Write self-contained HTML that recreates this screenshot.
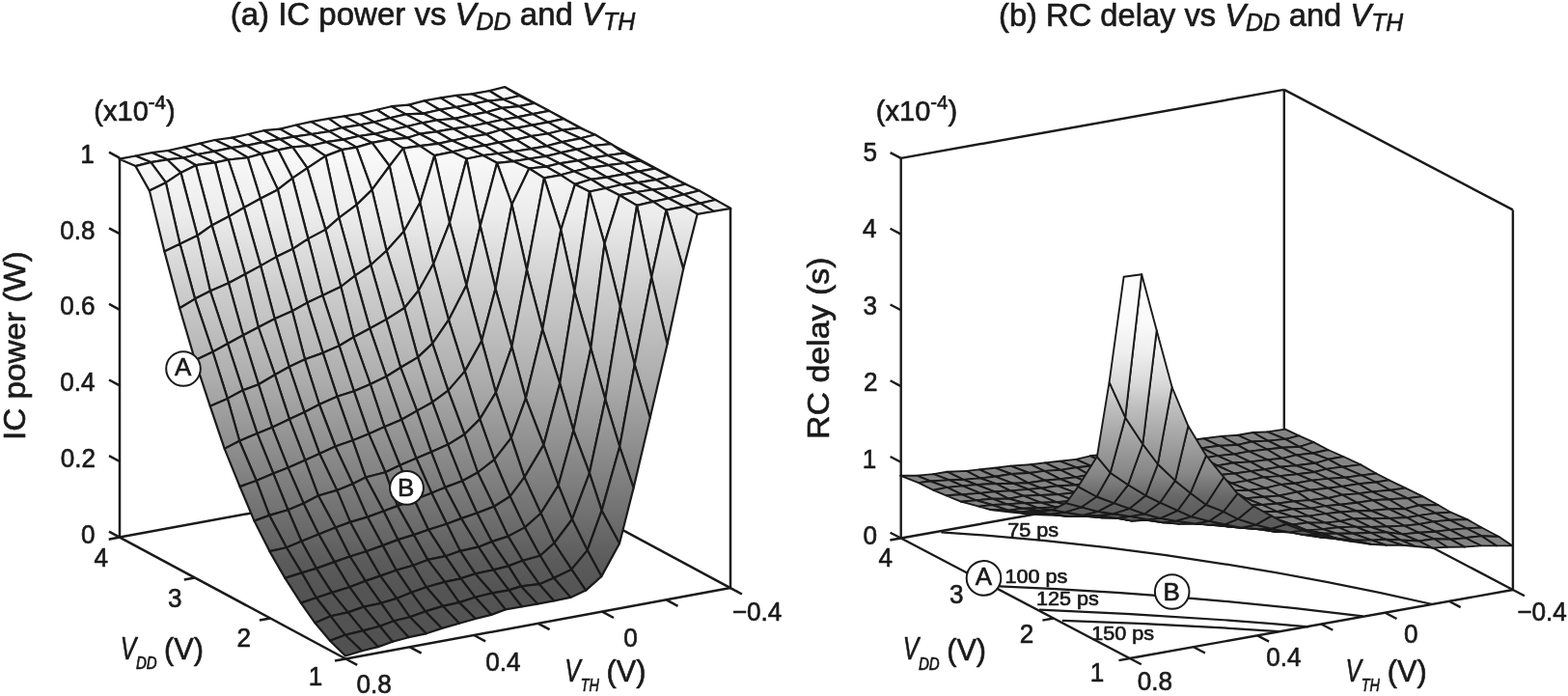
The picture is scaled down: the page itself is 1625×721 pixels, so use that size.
<!DOCTYPE html>
<html lang="en">
<head>
<meta charset="utf-8">
<title>IC power and RC delay vs VDD and VTH</title>
<style>
html,body{margin:0;padding:0;background:#fff;}
body{width:1625px;height:721px;overflow:hidden;}
svg{display:block;}
text{white-space:pre;}
</style>
</head>
<body>
<svg width="1625" height="721" viewBox="0 0 1625 721"><defs><linearGradient id="ga" gradientUnits="userSpaceOnUse" x1="0" y1="91" x2="0" y2="690"><stop offset="0" stop-color="#fdfdfd"/><stop offset="0.12" stop-color="#f8f8f8"/><stop offset="0.22" stop-color="#ececec"/><stop offset="0.35" stop-color="#cdcdcd"/><stop offset="0.5" stop-color="#aeaeae"/><stop offset="0.82" stop-color="#5b5b5b"/><stop offset="0.87" stop-color="#545454"/><stop offset="1" stop-color="#505050"/></linearGradient><linearGradient id="gb" gradientUnits="userSpaceOnUse" x1="0" y1="283" x2="0" y2="550"><stop offset="0" stop-color="#fdfdfd"/><stop offset="0.19" stop-color="#fafafa"/><stop offset="0.31" stop-color="#eeeeee"/><stop offset="0.44" stop-color="#d6d6d6"/><stop offset="0.51" stop-color="#c1c1c1"/><stop offset="0.64" stop-color="#a4a4a4"/><stop offset="0.78" stop-color="#868686"/><stop offset="0.87" stop-color="#666666"/><stop offset="0.93" stop-color="#5d5d5d"/><stop offset="1" stop-color="#5a5a5a"/></linearGradient></defs><g stroke="#1a1a1a"><g stroke-width="2.5"><line x1="124" y1="556.6" x2="522.8" y2="483.2"/><line x1="522.8" y1="483.2" x2="757" y2="609.1"/><line x1="522.8" y1="90.2" x2="757" y2="216.1"/></g><g fill="url(#ga)" stroke-width="2.2" stroke-linejoin="round"><polygon points="521.7,103 538.3,99.2 523,90.1 507.1,94.1"/><polygon points="506.2,104.5 521.7,103 507.1,94.1 488.8,97.4"/><polygon points="490.4,107.6 506.2,104.5 488.8,97.4 472.6,98.9"/><polygon points="472.5,111 490.4,107.6 472.6,98.9 456.5,101.4"/><polygon points="455.8,113.7 472.5,111 456.5,101.4 439.6,104.4"/><polygon points="438.5,117.6 455.8,113.7 439.6,104.4 423.5,108.6"/><polygon points="420.6,118.4 438.5,117.6 423.5,108.6 405.6,110.2"/><polygon points="404.2,122.3 420.6,118.4 405.6,110.2 390.6,113.8"/><polygon points="387.7,126.5 404.2,122.3 390.6,113.8 372.5,117.9"/><polygon points="373,129.4 387.7,126.5 372.5,117.9 356.6,120.4"/><polygon points="354.4,132.3 373,129.4 356.6,120.4 340.7,122.9"/><polygon points="341.1,136.1 354.4,132.3 340.7,122.9 322.2,126.1"/><polygon points="322.8,139 341.1,136.1 322.2,126.1 306.8,129.5"/><polygon points="304.5,141.7 322.8,139 306.8,129.5 290.1,133.6"/><polygon points="290.2,144.2 304.5,141.7 290.1,133.6 273.4,135.2"/><polygon points="272.1,147.3 290.2,144.2 273.4,135.2 257.3,139"/><polygon points="255.3,150.8 272.1,147.3 257.3,139 240.3,142.6"/><polygon points="239.7,153.1 255.3,150.8 240.3,142.6 222.7,145"/><polygon points="221.8,156.9 239.7,153.1 222.7,145 207.1,148.6"/><polygon points="204.5,160 221.8,156.9 207.1,148.6 190.9,152.4"/><polygon points="190,163.5 204.5,160 190.9,152.4 173.9,156"/><polygon points="173.3,165.3 190,163.5 173.9,156 157.2,158.1"/><polygon points="156.3,168.1 173.3,165.3 157.2,158.1 140.5,161.5"/><polygon points="140.5,172.1 156.3,168.1 140.5,161.5 123.7,164.7"/><polygon points="537.7,110.1 553.7,106.9 538.3,99.2 521.7,103"/><polygon points="520.2,111.9 537.7,110.1 521.7,103 506.2,104.5"/><polygon points="504,116.2 520.2,111.9 506.2,104.5 490.4,107.6"/><polygon points="488.7,119.2 504,116.2 490.4,107.6 472.5,111"/><polygon points="471.2,122.9 488.7,119.2 472.5,111 455.8,113.7"/><polygon points="452.8,124.5 471.2,122.9 455.8,113.7 438.5,117.6"/><polygon points="437.6,127.3 452.8,124.5 438.5,117.6 420.6,118.4"/><polygon points="421.7,131 437.6,127.3 420.6,118.4 404.2,122.3"/><polygon points="405.2,134.8 421.7,131 404.2,122.3 387.7,126.5"/><polygon points="388.2,138.7 405.2,134.8 387.7,126.5 373,129.4"/><polygon points="371.9,141 388.2,138.7 373,129.4 354.4,132.3"/><polygon points="355.8,144.6 371.9,141 354.4,132.3 341.1,136.1"/><polygon points="338.2,147.2 355.8,144.6 341.1,136.1 322.8,139"/><polygon points="321.5,151 338.2,147.2 322.8,139 304.5,141.7"/><polygon points="303.2,152.4 321.5,151 304.5,141.7 290.2,144.2"/><polygon points="288.3,155.4 303.2,152.4 290.2,144.2 272.1,147.3"/><polygon points="270.7,159.4 288.3,155.4 272.1,147.3 255.3,150.8"/><polygon points="256.8,163.2 270.7,159.4 255.3,150.8 239.7,153.1"/><polygon points="236.6,165.5 256.8,163.2 239.7,153.1 221.8,156.9"/><polygon points="223,168.4 236.6,165.5 221.8,156.9 204.5,160"/><polygon points="203.1,171.2 223,168.4 204.5,160 190,163.5"/><polygon points="187.4,178.9 203.1,171.2 190,163.5 173.3,165.3"/><polygon points="171.9,189.2 187.4,178.9 173.3,165.3 156.3,168.1"/><polygon points="154.9,197.6 171.9,189.2 156.3,168.1 140.5,172.1"/><polygon points="552.1,118.1 569,114.9 553.7,106.9 537.7,110.1"/><polygon points="536.1,121.3 552.1,118.1 537.7,110.1 520.2,111.9"/><polygon points="521.2,124 536.1,121.3 520.2,111.9 504,116.2"/><polygon points="504.3,127.5 521.2,124 504,116.2 488.7,119.2"/><polygon points="487,131 504.3,127.5 488.7,119.2 471.2,122.9"/><polygon points="469.7,133.3 487,131 471.2,122.9 452.8,124.5"/><polygon points="452.3,136.3 469.7,133.3 452.8,124.5 437.6,127.3"/><polygon points="435.1,138.7 452.3,136.3 437.6,127.3 421.7,131"/><polygon points="422.2,142.8 435.1,138.7 421.7,131 405.2,134.8"/><polygon points="403.5,144.6 422.2,142.8 405.2,134.8 388.2,138.7"/><polygon points="385.6,147.9 403.5,144.6 388.2,138.7 371.9,141"/><polygon points="369.5,152.6 385.6,147.9 371.9,141 355.8,144.6"/><polygon points="354.4,155.1 369.5,152.6 355.8,144.6 338.2,147.2"/><polygon points="337.4,161.6 354.4,155.1 338.2,147.2 321.5,151"/><polygon points="318.5,174.1 337.4,161.6 321.5,151 303.2,152.4"/><polygon points="303.1,184.6 318.5,174.1 303.2,152.4 288.3,155.4"/><polygon points="287.9,196.4 303.1,184.6 288.3,155.4 270.7,159.4"/><polygon points="269.9,205.8 287.9,196.4 270.7,159.4 256.8,163.2"/><polygon points="252.9,215 269.9,205.8 256.8,163.2 236.6,165.5"/><polygon points="237.5,224.1 252.9,215 236.6,165.5 223,168.4"/><polygon points="219.6,233.4 237.5,224.1 223,168.4 203.1,171.2"/><polygon points="204.6,244 219.6,233.4 203.1,171.2 187.4,178.9"/><polygon points="186.5,252.7 204.6,244 187.4,178.9 171.9,189.2"/><polygon points="170.4,260.4 186.5,252.7 171.9,189.2 154.9,197.6"/><polygon points="567.9,126.6 584.3,123.2 569,114.9 552.1,118.1"/><polygon points="551.4,129.6 567.9,126.6 552.1,118.1 536.1,121.3"/><polygon points="535.3,132.6 551.4,129.6 536.1,121.3 521.2,124"/><polygon points="518.9,134.5 535.3,132.6 521.2,124 504.3,127.5"/><polygon points="503.7,139.1 518.9,134.5 504.3,127.5 487,131"/><polygon points="485.6,142 503.7,139.1 487,131 469.7,133.3"/><polygon points="468.7,145.7 485.6,142 469.7,133.3 452.3,136.3"/><polygon points="454,148.8 468.7,145.7 452.3,136.3 435.1,138.7"/><polygon points="435.1,151.2 454,148.8 435.1,138.7 422.2,142.8"/><polygon points="417.9,153.6 435.1,151.2 422.2,142.8 403.5,144.6"/><polygon points="403.7,172 417.9,153.6 403.5,144.6 385.6,147.9"/><polygon points="385.5,196.6 403.7,172 385.6,147.9 369.5,152.6"/><polygon points="369.6,212.1 385.5,196.6 369.5,152.6 354.4,155.1"/><polygon points="351.4,225.7 369.6,212.1 354.4,155.1 337.4,161.6"/><polygon points="337.4,237.9 351.4,225.7 337.4,161.6 318.5,174.1"/><polygon points="319.4,247.4 337.4,237.9 318.5,174.1 303.1,184.6"/><polygon points="303.5,257.8 319.4,247.4 303.1,184.6 287.9,196.4"/><polygon points="286.5,266.1 303.5,257.8 287.9,196.4 269.9,205.8"/><polygon points="270.1,275.4 286.5,266.1 269.9,205.8 252.9,215"/><polygon points="254.1,284 270.1,275.4 252.9,215 237.5,224.1"/><polygon points="236.9,293.3 254.1,284 237.5,224.1 219.6,233.4"/><polygon points="217.9,301.4 236.9,293.3 219.6,233.4 204.6,244"/><polygon points="202.1,309.6 217.9,301.4 204.6,244 186.5,252.7"/><polygon points="186.2,319.2 202.1,309.6 186.5,252.7 170.4,260.4"/><polygon points="582.8,134.8 600.9,132.4 584.3,123.2 567.9,126.6"/><polygon points="567.7,138.5 582.8,134.8 567.9,126.6 551.4,129.6"/><polygon points="550.4,141 567.7,138.5 551.4,129.6 535.3,132.6"/><polygon points="534.7,144.6 550.4,141 535.3,132.6 518.9,134.5"/><polygon points="517.1,147.7 534.7,144.6 518.9,134.5 503.7,139.1"/><polygon points="502.1,150.6 517.1,147.7 503.7,139.1 485.6,142"/><polygon points="485.9,153.5 502.1,150.6 485.6,142 468.7,145.7"/><polygon points="468.8,157.3 485.9,153.5 468.7,145.7 454,148.8"/><polygon points="450.3,161.1 468.8,157.3 454,148.8 435.1,151.2"/><polygon points="435.4,209.9 450.3,161.1 435.1,151.2 417.9,153.6"/><polygon points="418.5,239.8 435.4,209.9 417.9,153.6 403.7,172"/><polygon points="400.6,259.7 418.5,239.8 403.7,172 385.5,196.6"/><polygon points="384.3,274.5 400.6,259.7 385.5,196.6 369.6,212.1"/><polygon points="367.9,285.6 384.3,274.5 369.6,212.1 351.4,225.7"/><polygon points="353.3,297 367.9,285.6 351.4,225.7 337.4,237.9"/><polygon points="334.4,306 353.3,297 337.4,237.9 319.4,247.4"/><polygon points="318.4,313.6 334.4,306 319.4,247.4 303.5,257.8"/><polygon points="302.9,322.2 318.4,313.6 303.5,257.8 286.5,266.1"/><polygon points="284.7,330.3 302.9,322.2 286.5,266.1 270.1,275.4"/><polygon points="267.8,339 284.7,330.3 270.1,275.4 254.1,284"/><polygon points="252,347.3 267.8,339 254.1,284 236.9,293.3"/><polygon points="236,356 252,347.3 236.9,293.3 217.9,301.4"/><polygon points="220.5,364.5 236,356 217.9,301.4 202.1,309.6"/><polygon points="202.1,373.2 220.5,364.5 202.1,309.6 186.2,319.2"/><polygon points="601.7,143.3 616.8,139.5 600.9,132.4 582.8,134.8"/><polygon points="582.4,147.1 601.7,143.3 582.8,134.8 567.7,138.5"/><polygon points="566.5,151.3 582.4,147.1 567.7,138.5 550.4,141"/><polygon points="550.6,154.2 566.5,151.3 550.4,141 534.7,144.6"/><polygon points="532.3,157 550.6,154.2 534.7,144.6 517.1,147.7"/><polygon points="515.8,159 532.3,157 517.1,147.7 502.1,150.6"/><polygon points="500.6,161 515.8,159 502.1,150.6 485.9,153.5"/><polygon points="483.5,164.5 500.6,161 485.9,153.5 468.8,157.3"/><polygon points="466,230.7 483.5,164.5 468.8,157.3 450.3,161.1"/><polygon points="449.2,273.3 466,230.7 450.3,161.1 435.4,209.9"/><polygon points="433.8,301 449.2,273.3 435.4,209.9 418.5,239.8"/><polygon points="419.2,319 433.8,301 418.5,239.8 400.6,259.7"/><polygon points="400.4,330.9 419.2,319 400.6,259.7 384.3,274.5"/><polygon points="383.3,340.3 400.4,330.9 384.3,274.5 367.9,285.6"/><polygon points="366.5,349.3 383.3,340.3 367.9,285.6 353.3,297"/><polygon points="351.5,358.2 366.5,349.3 353.3,297 334.4,306"/><polygon points="334.7,365.6 351.5,358.2 334.4,306 318.4,313.6"/><polygon points="316,372.2 334.7,365.6 318.4,313.6 302.9,322.2"/><polygon points="299.7,380 316,372.2 302.9,322.2 284.7,330.3"/><polygon points="284.9,388.2 299.7,380 284.7,330.3 267.8,339"/><polygon points="268,398.3 284.9,388.2 267.8,339 252,347.3"/><polygon points="251.7,404.3 268,398.3 252,347.3 236,356"/><polygon points="235.8,412.9 251.7,404.3 236,356 220.5,364.5"/><polygon points="217.8,420.8 235.8,412.9 220.5,364.5 202.1,373.2"/><polygon points="614.7,151 633.3,149.2 616.8,139.5 601.7,143.3"/><polygon points="597.7,154.7 614.7,151 601.7,143.3 582.4,147.1"/><polygon points="581.5,158.2 597.7,154.7 582.4,147.1 566.5,151.3"/><polygon points="565.6,161.9 581.5,158.2 566.5,151.3 550.6,154.2"/><polygon points="548.3,164.5 565.6,161.9 550.6,154.2 532.3,157"/><polygon points="531.9,167.1 548.3,164.5 532.3,157 515.8,159"/><polygon points="515.1,168.8 531.9,167.1 515.8,159 500.6,161"/><polygon points="497.7,234.1 515.1,168.8 500.6,161 483.5,164.5"/><polygon points="483.4,295.5 497.7,234.1 483.5,164.5 466,230.7"/><polygon points="465,331.4 483.4,295.5 466,230.7 449.2,273.3"/><polygon points="448.2,355.9 465,331.4 449.2,273.3 433.8,301"/><polygon points="433.1,370.1 448.2,355.9 433.8,301 419.2,319"/><polygon points="415.2,380.8 433.1,370.1 419.2,319 400.4,330.9"/><polygon points="400.4,390 415.2,380.8 400.4,330.9 383.3,340.3"/><polygon points="383.8,398 400.4,390 383.3,340.3 366.5,349.3"/><polygon points="366.8,405.2 383.8,398 366.5,349.3 351.5,358.2"/><polygon points="349.5,410.7 366.8,405.2 351.5,358.2 334.7,365.6"/><polygon points="330.9,419 349.5,410.7 334.7,365.6 316,372.2"/><polygon points="315.5,426.9 330.9,419 316,372.2 299.7,380"/><polygon points="299.9,434.2 315.5,426.9 299.7,380 284.9,388.2"/><polygon points="282.1,442.7 299.9,434.2 284.9,388.2 268,398.3"/><polygon points="266.6,449.1 282.1,442.7 268,398.3 251.7,404.3"/><polygon points="248.2,456.7 266.6,449.1 251.7,404.3 235.8,412.9"/><polygon points="232.7,464.9 248.2,456.7 235.8,412.9 217.8,420.8"/><polygon points="629.7,161 646.7,158.6 633.3,149.2 614.7,151"/><polygon points="614.6,163.4 629.7,161 614.7,151 597.7,154.7"/><polygon points="598.9,166.4 614.6,163.4 597.7,154.7 581.5,158.2"/><polygon points="579.7,169.3 598.9,166.4 581.5,158.2 565.6,161.9"/><polygon points="566.1,172.6 579.7,169.3 565.6,161.9 548.3,164.5"/><polygon points="548.4,174.5 566.1,172.6 548.3,164.5 531.9,167.1"/><polygon points="530.5,211.9 548.4,174.5 531.9,167.1 515.1,168.8"/><polygon points="513.5,299 530.5,211.9 515.1,168.8 497.7,234.1"/><polygon points="499.2,353.1 513.5,299 497.7,234.1 483.4,295.5"/><polygon points="481.7,384.6 499.2,353.1 483.4,295.5 465,331.4"/><polygon points="464.5,404.6 481.7,384.6 465,331.4 448.2,355.9"/><polygon points="448.1,416.7 464.5,404.6 448.2,355.9 433.1,370.1"/><polygon points="432.1,425.6 448.1,416.7 433.1,370.1 415.2,380.8"/><polygon points="416.1,434.7 432.1,425.6 415.2,380.8 400.4,390"/><polygon points="398.4,442.2 416.1,434.7 400.4,390 383.8,398"/><polygon points="382.2,449.4 398.4,442.2 383.8,398 366.8,405.2"/><polygon points="365.5,456.2 382.2,449.4 366.8,405.2 349.5,410.7"/><polygon points="347.5,462.5 365.5,456.2 349.5,410.7 330.9,419"/><polygon points="331.2,470 347.5,462.5 330.9,419 315.5,426.9"/><polygon points="316.2,476.7 331.2,470 315.5,426.9 299.9,434.2"/><polygon points="298.6,484.6 316.2,476.7 299.9,434.2 282.1,442.7"/><polygon points="283.3,490.6 298.6,484.6 282.1,442.7 266.6,449.1"/><polygon points="265.7,498 283.3,490.6 266.6,449.1 248.2,456.7"/><polygon points="248.6,504.1 265.7,498 248.2,456.7 232.7,464.9"/><polygon points="647.2,169 663.3,166.6 646.7,158.6 629.7,161"/><polygon points="630.2,171.1 647.2,169 629.7,161 614.6,163.4"/><polygon points="611.8,173.8 630.2,171.1 614.6,163.4 598.9,166.4"/><polygon points="595,177.5 611.8,173.8 598.9,166.4 579.7,169.3"/><polygon points="581.2,181.3 595,177.5 579.7,169.3 566.1,172.6"/><polygon points="563.9,184.4 581.2,181.3 566.1,172.6 548.4,174.5"/><polygon points="546,279.7 563.9,184.4 548.4,174.5 530.5,211.9"/><polygon points="530.4,359.2 546,279.7 530.5,211.9 513.5,299"/><polygon points="513.9,406.6 530.4,359.2 513.5,299 499.2,353.1"/><polygon points="497.3,434.1 513.9,406.6 499.2,353.1 481.7,384.6"/><polygon points="481.4,450 497.3,434.1 481.7,384.6 464.5,404.6"/><polygon points="464.2,460.6 481.4,450 464.5,404.6 448.1,416.7"/><polygon points="446.9,468.2 464.2,460.6 448.1,416.7 432.1,425.6"/><polygon points="431.4,474.8 446.9,468.2 432.1,425.6 416.1,434.7"/><polygon points="414.4,482 431.4,474.8 416.1,434.7 398.4,442.2"/><polygon points="399.4,489.3 414.4,482 398.4,442.2 382.2,449.4"/><polygon points="379,494.5 399.4,489.3 382.2,449.4 365.5,456.2"/><polygon points="365.6,501.2 379,494.5 365.5,456.2 347.5,462.5"/><polygon points="349.2,507.9 365.6,501.2 347.5,462.5 331.2,470"/><polygon points="329.9,513.5 349.2,507.9 331.2,470 316.2,476.7"/><polygon points="314.6,521.4 329.9,513.5 316.2,476.7 298.6,484.6"/><polygon points="298.5,528.3 314.6,521.4 298.6,484.6 283.3,490.6"/><polygon points="279.2,533.9 298.5,528.3 283.3,490.6 265.7,498"/><polygon points="263.5,539.6 279.2,533.9 265.7,498 248.6,504.1"/><polygon points="661.8,177.6 678.8,174.6 663.3,166.6 647.2,169"/><polygon points="647.1,180.3 661.8,177.6 647.2,169 630.2,171.1"/><polygon points="629,183.7 647.1,180.3 630.2,171.1 611.8,173.8"/><polygon points="612.6,185.8 629,183.7 611.8,173.8 595,177.5"/><polygon points="595.9,190.9 612.6,185.8 595,177.5 581.2,181.3"/><polygon points="581.3,238.2 595.9,190.9 581.2,181.3 563.9,184.4"/><polygon points="562.2,341.2 581.3,238.2 563.9,184.4 546,279.7"/><polygon points="544.9,412.6 562.2,341.2 546,279.7 530.4,359.2"/><polygon points="529.8,453.6 544.9,412.6 530.4,359.2 513.9,406.6"/><polygon points="512.3,476.2 529.8,453.6 513.9,406.6 497.3,434.1"/><polygon points="495.1,489.5 512.3,476.2 497.3,434.1 481.4,450"/><polygon points="479.1,498.2 495.1,489.5 481.4,450 464.2,460.6"/><polygon points="461.3,504.9 479.1,498.2 464.2,460.6 446.9,468.2"/><polygon points="447.3,510.7 461.3,504.9 446.9,468.2 431.4,474.8"/><polygon points="429.3,517.8 447.3,510.7 431.4,474.8 414.4,482"/><polygon points="411.9,524.1 429.3,517.8 414.4,482 399.4,489.3"/><polygon points="397.6,529.5 411.9,524.1 399.4,489.3 379,494.5"/><polygon points="380.8,535.6 397.6,529.5 379,494.5 365.6,501.2"/><polygon points="363,540.9 380.8,535.6 365.6,501.2 349.2,507.9"/><polygon points="347.7,546.5 363,540.9 349.2,507.9 329.9,513.5"/><polygon points="330.3,553.5 347.7,546.5 329.9,513.5 314.6,521.4"/><polygon points="312.4,560.8 330.3,553.5 314.6,521.4 298.5,528.3"/><polygon points="296.9,567.3 312.4,560.8 298.5,528.3 279.2,533.9"/><polygon points="279.4,571.1 296.9,567.3 279.2,533.9 263.5,539.6"/><polygon points="680.1,186.2 694.4,182.7 678.8,174.6 661.8,177.6"/><polygon points="661.1,189.1 680.1,186.2 661.8,177.6 647.1,180.3"/><polygon points="644.1,191.3 661.1,189.1 647.1,180.3 629,183.7"/><polygon points="627.7,195 644.1,191.3 629,183.7 612.6,185.8"/><polygon points="611,198.5 627.7,195 612.6,185.8 595.9,190.9"/><polygon points="595.4,302.1 611,198.5 595.9,190.9 581.3,238.2"/><polygon points="580.2,397.1 595.4,302.1 581.3,238.2 562.2,341.2"/><polygon points="563.4,460.9 580.2,397.1 562.2,341.2 544.9,412.6"/><polygon points="543.5,494.4 563.4,460.9 544.9,412.6 529.8,453.6"/><polygon points="528.6,514.3 543.5,494.4 529.8,453.6 512.3,476.2"/><polygon points="512,524.7 528.6,514.3 512.3,476.2 495.1,489.5"/><polygon points="494.3,531.5 512,524.7 495.1,489.5 479.1,498.2"/><polygon points="478,537.1 494.3,531.5 479.1,498.2 461.3,504.9"/><polygon points="463,542.7 478,537.1 461.3,504.9 447.3,510.7"/><polygon points="444,548.7 463,542.7 447.3,510.7 429.3,517.8"/><polygon points="428.8,554.1 444,548.7 429.3,517.8 411.9,524.1"/><polygon points="412.4,559.1 428.8,554.1 411.9,524.1 397.6,529.5"/><polygon points="396.6,565.1 412.4,559.1 397.6,529.5 380.8,535.6"/><polygon points="379.5,571.3 396.6,565.1 380.8,535.6 363,540.9"/><polygon points="362.7,576.5 379.5,571.3 363,540.9 347.7,546.5"/><polygon points="346.6,582.1 362.7,576.5 347.7,546.5 330.3,553.5"/><polygon points="327.9,588.9 346.6,582.1 330.3,553.5 312.4,560.8"/><polygon points="312.7,593.4 327.9,588.9 312.4,560.8 296.9,567.3"/><polygon points="295.4,598.9 312.7,593.4 296.9,567.3 279.4,571.1"/><polygon points="694.2,194.4 710.4,190.7 694.4,182.7 680.1,186.2"/><polygon points="676.2,196.5 694.2,194.4 680.1,186.2 661.1,189.1"/><polygon points="659.6,199 676.2,196.5 661.1,189.1 644.1,191.3"/><polygon points="642.1,202.2 659.6,199 644.1,191.3 627.7,195"/><polygon points="626.5,252.4 642.1,202.2 627.7,195 611,198.5"/><polygon points="612.3,360.8 626.5,252.4 611,198.5 595.4,302.1"/><polygon points="594.3,446 612.3,360.8 595.4,302.1 580.2,397.1"/><polygon points="578.7,502.7 594.3,446 580.2,397.1 563.4,460.9"/><polygon points="560.5,531.7 578.7,502.7 563.4,460.9 543.5,494.4"/><polygon points="543.9,546.4 560.5,531.7 543.5,494.4 528.6,514.3"/><polygon points="526.6,555.6 543.9,546.4 528.6,514.3 512,524.7"/><polygon points="509.7,561.1 526.6,555.6 512,524.7 494.3,531.5"/><polygon points="495.9,566.7 509.7,561.1 494.3,531.5 478,537.1"/><polygon points="476.9,570.8 495.9,566.7 478,537.1 463,542.7"/><polygon points="461.7,576.2 476.9,570.8 463,542.7 444,548.7"/><polygon points="443.3,579.9 461.7,576.2 444,548.7 428.8,554.1"/><polygon points="428.2,585.8 443.3,579.9 428.8,554.1 412.4,559.1"/><polygon points="410.7,590.7 428.2,585.8 412.4,559.1 396.6,565.1"/><polygon points="394.1,596.6 410.7,590.7 396.6,565.1 379.5,571.3"/><polygon points="378.7,601.9 394.1,596.6 379.5,571.3 362.7,576.5"/><polygon points="362.2,608.2 378.7,601.9 362.7,576.5 346.6,582.1"/><polygon points="344,613.9 362.2,608.2 346.6,582.1 327.9,588.9"/><polygon points="327.8,619.3 344,613.9 327.9,588.9 312.7,593.4"/><polygon points="311.9,624.6 327.8,619.3 312.7,593.4 295.4,598.9"/><polygon points="708.7,201.4 724.7,197.5 710.4,190.7 694.2,194.4"/><polygon points="692.9,205.5 708.7,201.4 694.2,194.4 676.2,196.5"/><polygon points="676.9,208.9 692.9,205.5 676.2,196.5 659.6,199"/><polygon points="660.1,212.9 676.9,208.9 659.6,199 642.1,202.2"/><polygon points="642.8,317.8 660.1,212.9 642.1,202.2 626.5,252.4"/><polygon points="627.3,413.6 642.8,317.8 626.5,252.4 612.3,360.8"/><polygon points="610.9,490.1 627.3,413.6 612.3,360.8 594.3,446"/><polygon points="592.9,538 610.9,490.1 594.3,446 578.7,502.7"/><polygon points="574.4,562.5 592.9,538 578.7,502.7 560.5,531.7"/><polygon points="559.8,575.7 574.4,562.5 560.5,531.7 543.9,546.4"/><polygon points="541.7,580.8 559.8,575.7 543.9,546.4 526.6,555.6"/><polygon points="526.9,586.4 541.7,580.8 526.6,555.6 509.7,561.1"/><polygon points="511.4,590.4 526.9,586.4 509.7,561.1 495.9,566.7"/><polygon points="492.5,594.4 511.4,590.4 495.9,566.7 476.9,570.8"/><polygon points="477.6,599.3 492.5,594.4 476.9,570.8 461.7,576.2"/><polygon points="460.9,602.9 477.6,599.3 461.7,576.2 443.3,579.9"/><polygon points="441.8,608.2 460.9,602.9 443.3,579.9 428.2,585.8"/><polygon points="426.3,613.7 441.8,608.2 428.2,585.8 410.7,590.7"/><polygon points="411.2,619.9 426.3,613.7 410.7,590.7 394.1,596.6"/><polygon points="395,624.8 411.2,619.9 394.1,596.6 378.7,601.9"/><polygon points="377,628.6 395,624.8 378.7,601.9 362.2,608.2"/><polygon points="360.6,634.4 377,628.6 362.2,608.2 344,613.9"/><polygon points="342.7,638.3 360.6,634.4 344,613.9 327.8,619.3"/><polygon points="326.5,645.3 342.7,638.3 327.8,619.3 311.9,624.6"/><polygon points="725.6,210.6 741.5,207 724.7,197.5 708.7,201.4"/><polygon points="709.5,213.9 725.6,210.6 708.7,201.4 692.9,205.5"/><polygon points="690.5,217.6 709.5,213.9 692.9,205.5 676.9,208.9"/><polygon points="675.2,287.2 690.5,217.6 676.9,208.9 660.1,212.9"/><polygon points="657.7,377.8 675.2,287.2 660.1,212.9 642.8,317.8"/><polygon points="642.2,462.8 657.7,377.8 642.8,317.8 627.3,413.6"/><polygon points="623.6,528.9 642.2,462.8 627.3,413.6 610.9,490.1"/><polygon points="608.7,570.1 623.6,528.9 610.9,490.1 592.9,538"/><polygon points="592.3,589.9 608.7,570.1 592.9,538 574.4,562.5"/><polygon points="573.9,598.7 592.3,589.9 574.4,562.5 559.8,575.7"/><polygon points="558.9,605.2 573.9,598.7 559.8,575.7 541.7,580.8"/><polygon points="540.1,607.4 558.9,605.2 541.7,580.8 526.9,586.4"/><polygon points="527.4,611.4 540.1,607.4 526.9,586.4 511.4,590.4"/><polygon points="510.3,614.4 527.4,611.4 511.4,590.4 492.5,594.4"/><polygon points="492.5,618.8 510.3,614.4 492.5,594.4 477.6,599.3"/><polygon points="475.9,624.1 492.5,618.8 477.6,599.3 460.9,602.9"/><polygon points="459.1,627.9 475.9,624.1 460.9,602.9 441.8,608.2"/><polygon points="440.8,633.4 459.1,627.9 441.8,608.2 426.3,613.7"/><polygon points="424.8,639.3 440.8,633.4 426.3,613.7 411.2,619.9"/><polygon points="408.1,643.3 424.8,639.3 411.2,619.9 395,624.8"/><polygon points="393.6,648.7 408.1,643.3 395,624.8 377,628.6"/><polygon points="376.2,653.4 393.6,648.7 377,628.6 360.6,634.4"/><polygon points="357.8,657.8 376.2,653.4 360.6,634.4 342.7,638.3"/><polygon points="342,663.8 357.8,657.8 342.7,638.3 326.5,645.3"/><polygon points="739.6,218.9 757.4,215.9 741.5,207 725.6,210.6"/><polygon points="722.7,221.8 739.6,218.9 725.6,210.6 709.5,213.9"/><polygon points="708.2,278.6 722.7,221.8 709.5,213.9 690.5,217.6"/><polygon points="691.6,356.3 708.2,278.6 690.5,217.6 675.2,287.2"/><polygon points="673.7,432.8 691.6,356.3 675.2,287.2 657.7,377.8"/><polygon points="656.6,505.4 673.7,432.8 657.7,377.8 642.2,462.8"/><polygon points="642,563 656.6,505.4 642.2,462.8 623.6,528.9"/><polygon points="623.3,597.1 642,563 623.6,528.9 608.7,570.1"/><polygon points="607.1,611.6 623.3,597.1 608.7,570.1 592.3,589.9"/><polygon points="591.3,618.9 607.1,611.6 592.3,589.9 573.9,598.7"/><polygon points="574.1,622.4 591.3,618.9 573.9,598.7 558.9,605.2"/><polygon points="557,625.6 574.1,622.4 558.9,605.2 540.1,607.4"/><polygon points="540.8,628.5 557,625.6 540.1,607.4 527.4,611.4"/><polygon points="523.8,631.4 540.8,628.5 527.4,611.4 510.3,614.4"/><polygon points="509.2,636.9 523.8,631.4 510.3,614.4 492.5,618.8"/><polygon points="492.8,641 509.2,636.9 492.5,618.8 475.9,624.1"/><polygon points="476,645.7 492.8,641 475.9,624.1 459.1,627.9"/><polygon points="458,650.9 476,645.7 459.1,627.9 440.8,633.4"/><polygon points="441.7,656.3 458,650.9 440.8,633.4 424.8,639.3"/><polygon points="423.5,660.2 441.7,656.3 424.8,639.3 408.1,643.3"/><polygon points="406.8,664.8 423.5,660.2 408.1,643.3 393.6,648.7"/><polygon points="391.8,670.1 406.8,664.8 393.6,648.7 376.2,653.4"/><polygon points="375,674.3 391.8,670.1 376.2,653.4 357.8,657.8"/><polygon points="358,679.5 375,674.3 357.8,657.8 342,663.8"/></g><g stroke-width="2.5"><line x1="124" y1="556.6" x2="124" y2="163.6"/><line x1="757" y1="609.1" x2="757" y2="216.1"/><line x1="124" y1="556.6" x2="358.3" y2="682.5"/><line x1="358.3" y1="682.5" x2="757" y2="609.1"/><line x1="124" y1="556.6" x2="113" y2="550.7"/><line x1="124" y1="478" x2="113" y2="472.1"/><line x1="124" y1="399.4" x2="113" y2="393.5"/><line x1="124" y1="320.8" x2="113" y2="314.9"/><line x1="124" y1="242.2" x2="113" y2="236.3"/><line x1="124" y1="163.6" x2="113" y2="157.7"/><line x1="124" y1="556.6" x2="112.7" y2="558.7"/><line x1="202.1" y1="598.6" x2="190.8" y2="600.6"/><line x1="280.2" y1="640.5" x2="268.9" y2="642.6"/><line x1="358.3" y1="682.5" x2="347" y2="684.6"/><line x1="358.3" y1="682.5" x2="370.2" y2="688.9"/><line x1="424.8" y1="670.3" x2="436.7" y2="676.7"/><line x1="491.2" y1="658" x2="503.1" y2="664.4"/><line x1="557.7" y1="645.8" x2="569.6" y2="652.2"/><line x1="624.1" y1="633.6" x2="636" y2="640"/><line x1="690.6" y1="621.4" x2="702.5" y2="627.8"/><line x1="757" y1="609.1" x2="768.9" y2="615.5"/></g><g fill="#fff" stroke-width="2.0"><circle cx="190" cy="382" r="17.8"/><circle cx="421.5" cy="505.4" r="17.4"/></g></g><g stroke="#1a1a1a"><g stroke-width="2.4"><line x1="933.7" y1="557.5" x2="1330.8" y2="486.5"/><line x1="1330.8" y1="486.5" x2="1567.9" y2="611"/><line x1="1330.8" y1="486.5" x2="1330.8" y2="92.9"/><line x1="933.7" y1="163.9" x2="1330.8" y2="92.9"/><line x1="1330.8" y1="92.9" x2="1567.9" y2="217.4"/></g><g fill="none" stroke-width="2.2"><path d="M975.4 551.3Q1230 568 1484.4 626"/><path d="M1035.8 607.4Q1224 615 1412.5 638.3"/><path d="M1077 631.6Q1216.6 637 1356.2 649.3"/><path d="M1100.9 642.9Q1213 646.3 1325.1 654.2"/></g><g fill="#858585" stroke-width="1.9" stroke-linejoin="round"><polygon points="1332.1,454.9 1346.2,451.3 1332,444.6 1313.4,447.4"/><polygon points="1314.1,456.6 1332.1,454.9 1313.4,447.4 1298.4,448"/><polygon points="1297.4,457.5 1314.1,456.6 1298.4,448 1283,450.8"/><polygon points="1282.4,460.9 1297.4,457.5 1283,450.8 1265.7,451.9"/><polygon points="1263.6,461.8 1282.4,460.9 1265.7,451.9 1247.5,454.3"/><polygon points="1245.8,464.1 1263.6,461.8 1247.5,454.3 1231.4,456.3"/><polygon points="1230.9,467.2 1245.8,464.1 1231.4,456.3 1213.3,460"/><polygon points="1215.6,471 1230.9,467.2 1213.3,460 1200.1,462.8"/><polygon points="1199.3,474.2 1215.6,471 1200.1,462.8 1183.4,465.5"/><polygon points="1181.3,476 1199.3,474.2 1183.4,465.5 1165.7,468.2"/><polygon points="1164.5,477.1 1181.3,476 1165.7,468.2 1148.9,470.2"/><polygon points="1148.4,480.8 1164.5,477.1 1148.9,470.2 1129.8,472.3"/><polygon points="1130.5,482.7 1148.4,480.8 1129.8,472.3 1115,475.9"/><polygon points="1115.2,484.2 1130.5,482.7 1115,475.9 1098.2,477.7"/><polygon points="1099.2,486.9 1115.2,484.2 1098.2,477.7 1082.9,479.4"/><polygon points="1082.3,487.9 1099.2,486.9 1082.9,479.4 1068,481.2"/><polygon points="1066.7,490 1082.3,487.9 1068,481.2 1047.3,482.6"/><polygon points="1048.1,491 1066.7,490 1047.3,482.6 1031,484.7"/><polygon points="1031.1,493.7 1048.1,491 1031,484.7 1014.9,486.4"/><polygon points="1015.9,495.4 1031.1,493.7 1014.9,486.4 1001.7,487.9"/><polygon points="998.5,496.9 1015.9,495.4 1001.7,487.9 981.5,488.7"/><polygon points="983.4,497.2 998.5,496.9 981.5,488.7 967.4,491.1"/><polygon points="964.2,498.5 983.4,497.2 967.4,491.1 950.2,492.6"/><polygon points="951.9,500.1 964.2,498.5 950.2,492.6 932.9,492.7"/><polygon points="1346.5,462.8 1361.5,458.2 1346.2,451.3 1332.1,454.9"/><polygon points="1328.9,463.8 1346.5,462.8 1332.1,454.9 1314.1,456.6"/><polygon points="1313,465.5 1328.9,463.8 1314.1,456.6 1297.4,457.5"/><polygon points="1294.4,467.6 1313,465.5 1297.4,457.5 1282.4,460.9"/><polygon points="1278.8,470.5 1294.4,467.6 1282.4,460.9 1263.6,461.8"/><polygon points="1261.8,472.1 1278.8,470.5 1263.6,461.8 1245.8,464.1"/><polygon points="1246.9,474.6 1261.8,472.1 1245.8,464.1 1230.9,467.2"/><polygon points="1230.8,477.4 1246.9,474.6 1230.9,467.2 1215.6,471"/><polygon points="1214.7,480.9 1230.8,477.4 1215.6,471 1199.3,474.2"/><polygon points="1196.3,482.2 1214.7,480.9 1199.3,474.2 1181.3,476"/><polygon points="1180.6,485.2 1196.3,482.2 1181.3,476 1164.5,477.1"/><polygon points="1163.7,487.8 1180.6,485.2 1164.5,477.1 1148.4,480.8"/><polygon points="1145.4,489.1 1163.7,487.8 1148.4,480.8 1130.5,482.7"/><polygon points="1128.9,491.8 1145.4,489.1 1130.5,482.7 1115.2,484.2"/><polygon points="1114.6,494.4 1128.9,491.8 1115.2,484.2 1099.2,486.9"/><polygon points="1099,496.3 1114.6,494.4 1099.2,486.9 1082.3,487.9"/><polygon points="1082.6,497.7 1099,496.3 1082.3,487.9 1066.7,490"/><polygon points="1065.6,500.3 1082.6,497.7 1066.7,490 1048.1,491"/><polygon points="1050,500.8 1065.6,500.3 1048.1,491 1031.1,493.7"/><polygon points="1032.2,501.1 1050,500.8 1031.1,493.7 1015.9,495.4"/><polygon points="1011.8,502 1032.2,501.1 1015.9,495.4 998.5,496.9"/><polygon points="997.6,503.4 1011.8,502 998.5,496.9 983.4,497.2"/><polygon points="981.6,504.9 997.6,503.4 983.4,497.2 964.2,498.5"/><polygon points="967.5,507.8 981.6,504.9 964.2,498.5 951.9,500.1"/><polygon points="1360.7,469.5 1376.4,466 1361.5,458.2 1346.5,462.8"/><polygon points="1343.4,471.4 1360.7,469.5 1346.5,462.8 1328.9,463.8"/><polygon points="1328.9,474.9 1343.4,471.4 1328.9,463.8 1313,465.5"/><polygon points="1313.6,476.3 1328.9,474.9 1313,465.5 1294.4,467.6"/><polygon points="1295.7,478.4 1313.6,476.3 1294.4,467.6 1278.8,470.5"/><polygon points="1278.1,479.5 1295.7,478.4 1278.8,470.5 1261.8,472.1"/><polygon points="1261.7,482.4 1278.1,479.5 1261.8,472.1 1246.9,474.6"/><polygon points="1244.8,485.7 1261.7,482.4 1246.9,474.6 1230.8,477.4"/><polygon points="1229.5,488.8 1244.8,485.7 1230.8,477.4 1214.7,480.9"/><polygon points="1213.5,489.2 1229.5,488.8 1214.7,480.9 1196.3,482.2"/><polygon points="1197.2,492.5 1213.5,489.2 1196.3,482.2 1180.6,485.2"/><polygon points="1177.1,494.2 1197.2,492.5 1180.6,485.2 1163.7,487.8"/><polygon points="1163.1,495.1 1177.1,494.2 1163.7,487.8 1145.4,489.1"/><polygon points="1146,498.5 1163.1,495.1 1145.4,489.1 1128.9,491.8"/><polygon points="1128.5,500 1146,498.5 1128.9,491.8 1114.6,494.4"/><polygon points="1114.6,502.5 1128.5,500 1114.6,494.4 1099,496.3"/><polygon points="1096,503.3 1114.6,502.5 1099,496.3 1082.6,497.7"/><polygon points="1078.8,505.7 1096,503.3 1082.6,497.7 1065.6,500.3"/><polygon points="1065.8,506.9 1078.8,505.7 1065.6,500.3 1050,500.8"/><polygon points="1047.2,508.4 1065.8,506.9 1050,500.8 1032.2,501.1"/><polygon points="1030.4,509.2 1047.2,508.4 1032.2,501.1 1011.8,502"/><polygon points="1016,510.9 1030.4,509.2 1011.8,502 997.6,503.4"/><polygon points="997,512.3 1016,510.9 997.6,503.4 981.6,504.9"/><polygon points="980.7,513.3 997,512.3 981.6,504.9 967.5,507.8"/><polygon points="1376.8,475.8 1392.3,473 1376.4,466 1360.7,469.5"/><polygon points="1362.8,479.8 1376.8,475.8 1360.7,469.5 1343.4,471.4"/><polygon points="1343.3,482.3 1362.8,479.8 1343.4,471.4 1328.9,474.9"/><polygon points="1326.3,483.6 1343.3,482.3 1328.9,474.9 1313.6,476.3"/><polygon points="1310.7,486.3 1326.3,483.6 1313.6,476.3 1295.7,478.4"/><polygon points="1296.2,488.1 1310.7,486.3 1295.7,478.4 1278.1,479.5"/><polygon points="1279.4,490.5 1296.2,488.1 1278.1,479.5 1261.7,482.4"/><polygon points="1260.6,492.3 1279.4,490.5 1261.7,482.4 1244.8,485.7"/><polygon points="1243.1,494.2 1260.6,492.3 1244.8,485.7 1229.5,488.8"/><polygon points="1228,496.8 1243.1,494.2 1229.5,488.8 1213.5,489.2"/><polygon points="1212.5,499.9 1228,496.8 1213.5,489.2 1197.2,492.5"/><polygon points="1196,500.7 1212.5,499.9 1197.2,492.5 1177.1,494.2"/><polygon points="1176.8,502.2 1196,500.7 1177.1,494.2 1163.1,495.1"/><polygon points="1162.1,503.9 1176.8,502.2 1163.1,495.1 1146,498.5"/><polygon points="1147.3,506.8 1162.1,503.9 1146,498.5 1128.5,500"/><polygon points="1128.6,508.7 1147.3,506.8 1128.5,500 1114.6,502.5"/><polygon points="1114.3,510.4 1128.6,508.7 1114.6,502.5 1096,503.3"/><polygon points="1096.1,512.2 1114.3,510.4 1096,503.3 1078.8,505.7"/><polygon points="1077.8,513 1096.1,512.2 1078.8,505.7 1065.8,506.9"/><polygon points="1060.8,513.6 1077.8,513 1065.8,506.9 1047.2,508.4"/><polygon points="1045.3,516.7 1060.8,513.6 1047.2,508.4 1030.4,509.2"/><polygon points="1028.3,516.7 1045.3,516.7 1030.4,509.2 1016,510.9"/><polygon points="1011.1,518.2 1028.3,516.7 1016,510.9 997,512.3"/><polygon points="995.8,519.7 1011.1,518.2 997,512.3 980.7,513.3"/><polygon points="1391,483.6 1410.2,481.4 1392.3,473 1376.8,475.8"/><polygon points="1374.3,485.9 1391,483.6 1376.8,475.8 1362.8,479.8"/><polygon points="1362.1,489 1374.3,485.9 1362.8,479.8 1343.3,482.3"/><polygon points="1344.1,491.2 1362.1,489 1343.3,482.3 1326.3,483.6"/><polygon points="1326.1,493.1 1344.1,491.2 1326.3,483.6 1310.7,486.3"/><polygon points="1309.7,494.4 1326.1,493.1 1310.7,486.3 1296.2,488.1"/><polygon points="1292.2,497.9 1309.7,494.4 1296.2,488.1 1279.4,490.5"/><polygon points="1276.3,500.6 1292.2,497.9 1279.4,490.5 1260.6,492.3"/><polygon points="1260.5,502.6 1276.3,500.6 1260.6,492.3 1243.1,494.2"/><polygon points="1242.8,503.1 1260.5,502.6 1243.1,494.2 1228,496.8"/><polygon points="1229.1,506.5 1242.8,503.1 1228,496.8 1212.5,499.9"/><polygon points="1209.9,507.5 1229.1,506.5 1212.5,499.9 1196,500.7"/><polygon points="1196.3,509.4 1209.9,507.5 1196,500.7 1176.8,502.2"/><polygon points="1178.3,511.1 1196.3,509.4 1176.8,502.2 1162.1,503.9"/><polygon points="1161.4,513.6 1178.3,511.1 1162.1,503.9 1147.3,506.8"/><polygon points="1146.3,514.7 1161.4,513.6 1147.3,506.8 1128.6,508.7"/><polygon points="1127.4,517.2 1146.3,514.7 1128.6,508.7 1114.3,510.4"/><polygon points="1113.8,518.7 1127.4,517.2 1114.3,510.4 1096.1,512.2"/><polygon points="1094.6,520.2 1113.8,518.7 1096.1,512.2 1077.8,513"/><polygon points="1078.3,520.7 1094.6,520.2 1077.8,513 1060.8,513.6"/><polygon points="1061.6,521 1078.3,520.7 1060.8,513.6 1045.3,516.7"/><polygon points="1043.6,522.4 1061.6,521 1045.3,516.7 1028.3,516.7"/><polygon points="1028.1,523 1043.6,522.4 1028.3,516.7 1011.1,518.2"/><polygon points="1014.5,524.7 1028.1,523 1011.1,518.2 995.8,519.7"/><polygon points="1411.1,492.4 1426.3,490.5 1410.2,481.4 1391,483.6"/><polygon points="1393.5,494.7 1411.1,492.4 1391,483.6 1374.3,485.9"/><polygon points="1376.1,495.9 1393.5,494.7 1374.3,485.9 1362.1,489"/><polygon points="1359.5,497.6 1376.1,495.9 1362.1,489 1344.1,491.2"/><polygon points="1341.8,500.8 1359.5,497.6 1344.1,491.2 1326.1,493.1"/><polygon points="1327.5,501.9 1341.8,500.8 1326.1,493.1 1309.7,494.4"/><polygon points="1311.3,505.7 1327.5,501.9 1309.7,494.4 1292.2,497.9"/><polygon points="1294,507.9 1311.3,505.7 1292.2,497.9 1276.3,500.6"/><polygon points="1276.3,508.1 1294,507.9 1276.3,500.6 1260.5,502.6"/><polygon points="1258,510.1 1276.3,508.1 1260.5,502.6 1242.8,503.1"/><polygon points="1245.1,513.3 1258,510.1 1242.8,503.1 1229.1,506.5"/><polygon points="1228.1,515.6 1245.1,513.3 1229.1,506.5 1209.9,507.5"/><polygon points="1210.4,517.7 1228.1,515.6 1209.9,507.5 1196.3,509.4"/><polygon points="1194.4,517.4 1210.4,517.7 1196.3,509.4 1178.3,511.1"/><polygon points="1175.7,518.8 1194.4,517.4 1178.3,511.1 1161.4,513.6"/><polygon points="1161,519.8 1175.7,518.8 1161.4,513.6 1146.3,514.7"/><polygon points="1143.7,520.9 1161,519.8 1146.3,514.7 1127.4,517.2"/><polygon points="1127.8,522.5 1143.7,520.9 1127.4,517.2 1113.8,518.7"/><polygon points="1110.7,525 1127.8,522.5 1113.8,518.7 1094.6,520.2"/><polygon points="1093.4,525.2 1110.7,525 1094.6,520.2 1078.3,520.7"/><polygon points="1075.9,526.3 1093.4,525.2 1078.3,520.7 1061.6,521"/><polygon points="1059,526.7 1075.9,526.3 1061.6,521 1043.6,522.4"/><polygon points="1045.7,528.8 1059,526.7 1043.6,522.4 1028.1,523"/><polygon points="1026.4,528 1045.7,528.8 1028.1,523 1014.5,524.7"/><polygon points="1425.8,499.5 1439.5,497.4 1426.3,490.5 1411.1,492.4"/><polygon points="1408,501.2 1425.8,499.5 1411.1,492.4 1393.5,494.7"/><polygon points="1390.7,503.9 1408,501.2 1393.5,494.7 1376.1,495.9"/><polygon points="1376,505.7 1390.7,503.9 1376.1,495.9 1359.5,497.6"/><polygon points="1357.6,507.7 1376,505.7 1359.5,497.6 1341.8,500.8"/><polygon points="1344.2,509.6 1357.6,507.7 1341.8,500.8 1327.5,501.9"/><polygon points="1325.6,513.5 1344.2,509.6 1327.5,501.9 1311.3,505.7"/><polygon points="1310,514.8 1325.6,513.5 1311.3,505.7 1294,507.9"/><polygon points="1291.1,516.1 1310,514.8 1294,507.9 1276.3,508.1"/><polygon points="1273.5,517.1 1291.1,516.1 1276.3,508.1 1258,510.1"/><polygon points="1259.3,517.6 1273.5,517.1 1258,510.1 1245.1,513.3"/><polygon points="1243,520.2 1259.3,517.6 1245.1,513.3 1228.1,515.6"/><polygon points="1223.6,521.6 1243,520.2 1228.1,515.6 1210.4,517.7"/><polygon points="1209.8,522.5 1223.6,521.6 1210.4,517.7 1194.4,517.4"/><polygon points="1193.1,523.2 1209.8,522.5 1194.4,517.4 1175.7,518.8"/><polygon points="1175.9,525.7 1193.1,523.2 1175.7,518.8 1161,519.8"/><polygon points="1162.7,527.9 1175.9,525.7 1161,519.8 1143.7,520.9"/><polygon points="1143.2,529.1 1162.7,527.9 1143.7,520.9 1127.8,522.5"/><polygon points="1126.4,528.6 1143.2,529.1 1127.8,522.5 1110.7,525"/><polygon points="1110.4,529.2 1126.4,528.6 1110.7,525 1093.4,525.2"/><polygon points="1095.9,529.6 1110.4,529.2 1093.4,525.2 1075.9,526.3"/><polygon points="1076.6,529.3 1095.9,529.6 1075.9,526.3 1059,526.7"/><polygon points="1057.4,530.4 1076.6,529.3 1059,526.7 1045.7,528.8"/><polygon points="1042.9,530 1057.4,530.4 1045.7,528.8 1026.4,528"/><polygon points="1440.9,507.8 1456.7,505.6 1439.5,497.4 1425.8,499.5"/><polygon points="1422,509.4 1440.9,507.8 1425.8,499.5 1408,501.2"/><polygon points="1408.1,511.2 1422,509.4 1408,501.2 1390.7,503.9"/><polygon points="1391.2,512.6 1408.1,511.2 1390.7,503.9 1376,505.7"/><polygon points="1376.7,516 1391.2,512.6 1376,505.7 1357.6,507.7"/><polygon points="1357.2,518.1 1376.7,516 1357.6,507.7 1344.2,509.6"/><polygon points="1341.1,519.3 1357.2,518.1 1344.2,509.6 1325.6,513.5"/><polygon points="1322.7,521.7 1341.1,519.3 1325.6,513.5 1310,514.8"/><polygon points="1308,523 1322.7,521.7 1310,514.8 1291.1,516.1"/><polygon points="1290.1,523.6 1308,523 1291.1,516.1 1273.5,517.1"/><polygon points="1274.9,525.7 1290.1,523.6 1273.5,517.1 1259.3,517.6"/><polygon points="1256.6,525.4 1274.9,525.7 1259.3,517.6 1243,520.2"/><polygon points="1239.8,527.3 1256.6,525.4 1243,520.2 1223.6,521.6"/><polygon points="1224.2,528.9 1239.8,527.3 1223.6,521.6 1209.8,522.5"/><polygon points="1209.1,529.7 1224.2,528.9 1209.8,522.5 1193.1,523.2"/><polygon points="1190.5,531 1209.1,529.7 1193.1,523.2 1175.9,525.7"/><polygon points="1175.7,532.6 1190.5,531 1175.9,525.7 1162.7,527.9"/><polygon points="1158,532.2 1175.7,532.6 1162.7,527.9 1143.2,529.1"/><polygon points="1143.4,534 1158,532.2 1143.2,529.1 1126.4,528.6"/><polygon points="1124.4,533.8 1143.4,534 1126.4,528.6 1110.4,529.2"/><polygon points="1109.8,533.7 1124.4,533.8 1110.4,529.2 1095.9,529.6"/><polygon points="1093.5,533.5 1109.8,533.7 1095.9,529.6 1076.6,529.3"/><polygon points="1074,533 1093.5,533.5 1076.6,529.3 1057.4,530.4"/><polygon points="1059.3,531.9 1074,533 1057.4,530.4 1042.9,530"/><polygon points="1458.5,516.1 1474.2,514.2 1456.7,505.6 1440.9,507.8"/><polygon points="1439.3,517.2 1458.5,516.1 1440.9,507.8 1422,509.4"/><polygon points="1422.7,518.3 1439.3,517.2 1422,509.4 1408.1,511.2"/><polygon points="1406.6,520.8 1422.7,518.3 1408.1,511.2 1391.2,512.6"/><polygon points="1388.9,522.8 1406.6,520.8 1391.2,512.6 1376.7,516"/><polygon points="1373.3,524.1 1388.9,522.8 1376.7,516 1357.2,518.1"/><polygon points="1358.6,526.6 1373.3,524.1 1357.2,518.1 1341.1,519.3"/><polygon points="1340.1,527.3 1358.6,526.6 1341.1,519.3 1322.7,521.7"/><polygon points="1323.6,530 1340.1,527.3 1322.7,521.7 1308,523"/><polygon points="1307.1,530.1 1323.6,530 1308,523 1290.1,523.6"/><polygon points="1287.6,531.5 1307.1,530.1 1290.1,523.6 1274.9,525.7"/><polygon points="1274.1,532.4 1287.6,531.5 1274.9,525.7 1256.6,525.4"/><polygon points="1257.3,533 1274.1,532.4 1256.6,525.4 1239.8,527.3"/><polygon points="1238.7,533.6 1257.3,533 1239.8,527.3 1224.2,528.9"/><polygon points="1225.6,534.3 1238.7,533.6 1224.2,528.9 1209.1,529.7"/><polygon points="1209.7,536.1 1225.6,534.3 1209.1,529.7 1190.5,531"/><polygon points="1189.5,536.5 1209.7,536.1 1190.5,531 1175.7,532.6"/><polygon points="1172.4,536.5 1189.5,536.5 1175.7,532.6 1158,532.2"/><polygon points="1156.3,536.2 1172.4,536.5 1158,532.2 1143.4,534"/><polygon points="1142,536.2 1156.3,536.2 1143.4,534 1124.4,533.8"/><polygon points="1124.3,534.8 1142,536.2 1124.4,533.8 1109.8,533.7"/><polygon points="1107.7,535 1124.3,534.8 1109.8,533.7 1093.5,533.5"/><polygon points="1088.3,532.4 1107.7,535 1093.5,533.5 1074,533" fill="url(#gb)"/><polygon points="1075.5,530.8 1088.3,532.4 1074,533 1059.3,531.9" fill="url(#gb)"/><polygon points="1470.4,523.5 1490.3,523 1474.2,514.2 1458.5,516.1"/><polygon points="1455.9,527.1 1470.4,523.5 1458.5,516.1 1439.3,517.2"/><polygon points="1439.6,527.3 1455.9,527.1 1439.3,517.2 1422.7,518.3"/><polygon points="1421,529 1439.6,527.3 1422.7,518.3 1406.6,520.8"/><polygon points="1406,529.3 1421,529 1406.6,520.8 1388.9,522.8"/><polygon points="1389.2,530.5 1406,529.3 1388.9,522.8 1373.3,524.1"/><polygon points="1374,532.1 1389.2,530.5 1373.3,524.1 1358.6,526.6"/><polygon points="1355.8,534.6 1374,532.1 1358.6,526.6 1340.1,527.3"/><polygon points="1339.4,535.1 1355.8,534.6 1340.1,527.3 1323.6,530"/><polygon points="1320,536.6 1339.4,535.1 1323.6,530 1307.1,530.1"/><polygon points="1306.2,538.1 1320,536.6 1307.1,530.1 1287.6,531.5"/><polygon points="1292.5,539.2 1306.2,538.1 1287.6,531.5 1274.1,532.4"/><polygon points="1273.6,537.8 1292.5,539.2 1274.1,532.4 1257.3,533"/><polygon points="1255.7,539.1 1273.6,537.8 1257.3,533 1238.7,533.6"/><polygon points="1239.9,540.2 1255.7,539.1 1238.7,533.6 1225.6,534.3"/><polygon points="1224.5,539.6 1239.9,540.2 1225.6,534.3 1209.7,536.1"/><polygon points="1208.3,540.2 1224.5,539.6 1209.7,536.1 1189.5,536.5"/><polygon points="1188.3,538.8 1208.3,540.2 1189.5,536.5 1172.4,536.5"/><polygon points="1173,539.6 1188.3,538.8 1172.4,536.5 1156.3,536.2"/><polygon points="1157.6,536.7 1173,539.6 1156.3,536.2 1142,536.2"/><polygon points="1138.3,534.3 1157.6,536.7 1142,536.2 1124.3,534.8" fill="url(#gb)"/><polygon points="1122.2,533.7 1138.3,534.3 1124.3,534.8 1107.7,535" fill="url(#gb)"/><polygon points="1103.8,530.7 1122.2,533.7 1107.7,535 1088.3,532.4" fill="url(#gb)"/><polygon points="1090.5,528.3 1103.8,530.7 1088.3,532.4 1075.5,530.8" fill="url(#gb)"/><polygon points="1487.8,531.6 1503.5,530.7 1490.3,523 1470.4,523.5"/><polygon points="1470,534.1 1487.8,531.6 1470.4,523.5 1455.9,527.1"/><polygon points="1457.8,536.2 1470,534.1 1455.9,527.1 1439.6,527.3"/><polygon points="1439.9,536.9 1457.8,536.2 1439.6,527.3 1421,529"/><polygon points="1421.8,537.3 1439.9,536.9 1421,529 1406,529.3"/><polygon points="1402.1,537.2 1421.8,537.3 1406,529.3 1389.2,530.5"/><polygon points="1388.8,539.9 1402.1,537.2 1389.2,530.5 1374,532.1"/><polygon points="1373.3,541.6 1388.8,539.9 1374,532.1 1355.8,534.6"/><polygon points="1355.6,541.4 1373.3,541.6 1355.8,534.6 1339.4,535.1"/><polygon points="1339.6,543.5 1355.6,541.4 1339.4,535.1 1320,536.6"/><polygon points="1321.8,542.5 1339.6,543.5 1320,536.6 1306.2,538.1"/><polygon points="1305,543.3 1321.8,542.5 1306.2,538.1 1292.5,539.2"/><polygon points="1289.8,542.8 1305,543.3 1292.5,539.2 1273.6,537.8"/><polygon points="1270.4,543.1 1289.8,542.8 1273.6,537.8 1255.7,539.1"/><polygon points="1253.6,543 1270.4,543.1 1255.7,539.1 1239.9,540.2"/><polygon points="1239.8,542.5 1253.6,543 1239.9,540.2 1224.5,539.6"/><polygon points="1221.4,542.6 1239.8,542.5 1224.5,539.6 1208.3,540.2"/><polygon points="1205.1,541.2 1221.4,542.6 1208.3,540.2 1188.3,538.8"/><polygon points="1189.2,538.1 1205.1,541.2 1188.3,538.8 1173,539.6" fill="url(#gb)"/><polygon points="1171.3,534.9 1189.2,538.1 1173,539.6 1157.6,536.7" fill="url(#gb)"/><polygon points="1152.9,532.3 1171.3,534.9 1157.6,536.7 1138.3,534.3" fill="url(#gb)"/><polygon points="1137.7,529.8 1152.9,532.3 1138.3,534.3 1122.2,533.7" fill="url(#gb)"/><polygon points="1120.8,525.3 1137.7,529.8 1122.2,533.7 1103.8,530.7" fill="url(#gb)"/><polygon points="1104.7,521.2 1120.8,525.3 1103.8,530.7 1090.5,528.3" fill="url(#gb)"/><polygon points="1502.2,538.7 1520.6,538.1 1503.5,530.7 1487.8,531.6"/><polygon points="1485.3,540.4 1502.2,538.7 1487.8,531.6 1470,534.1"/><polygon points="1470.9,543 1485.3,540.4 1470,534.1 1457.8,536.2"/><polygon points="1455.2,544.6 1470.9,543 1457.8,536.2 1439.9,536.9"/><polygon points="1437.3,545.5 1455.2,544.6 1439.9,536.9 1421.8,537.3"/><polygon points="1420.2,545.9 1437.3,545.5 1421.8,537.3 1402.1,537.2"/><polygon points="1404.7,545.6 1420.2,545.9 1402.1,537.2 1388.8,539.9"/><polygon points="1387.5,546.3 1404.7,545.6 1388.8,539.9 1373.3,541.6"/><polygon points="1370.7,548.1 1387.5,546.3 1373.3,541.6 1355.6,541.4"/><polygon points="1354.5,549.4 1370.7,548.1 1355.6,541.4 1339.6,543.5"/><polygon points="1337,549.1 1354.5,549.4 1339.6,543.5 1321.8,542.5"/><polygon points="1320.2,547.3 1337,549.1 1321.8,542.5 1305,543.3"/><polygon points="1306,547.8 1320.2,547.3 1305,543.3 1289.8,542.8"/><polygon points="1285.8,546.5 1306,547.8 1289.8,542.8 1270.4,543.1"/><polygon points="1268.8,545.1 1285.8,546.5 1270.4,543.1 1253.6,543"/><polygon points="1252.2,543.6 1268.8,545.1 1253.6,543 1239.8,542.5"/><polygon points="1238.6,542.4 1252.2,543.6 1239.8,542.5 1221.4,542.6" fill="url(#gb)"/><polygon points="1218.6,539.6 1238.6,542.4 1221.4,542.6 1205.1,541.2" fill="url(#gb)"/><polygon points="1202.6,536.9 1218.6,539.6 1205.1,541.2 1189.2,538.1" fill="url(#gb)"/><polygon points="1186,532.4 1202.6,536.9 1189.2,538.1 1171.3,534.9" fill="url(#gb)"/><polygon points="1170.6,526.8 1186,532.4 1171.3,534.9 1152.9,532.3" fill="url(#gb)"/><polygon points="1154.4,521.2 1170.6,526.8 1152.9,532.3 1137.7,529.8" fill="url(#gb)"/><polygon points="1136.5,514.5 1154.4,521.2 1137.7,529.8 1120.8,525.3" fill="url(#gb)"/><polygon points="1117.4,504.1 1136.5,514.5 1120.8,525.3 1104.7,521.2" fill="url(#gb)"/><polygon points="1519.9,547.4 1535.5,546.5 1520.6,538.1 1502.2,538.7"/><polygon points="1502.6,548.9 1519.9,547.4 1502.2,538.7 1485.3,540.4"/><polygon points="1487.4,550.7 1502.6,548.9 1485.3,540.4 1470.9,543"/><polygon points="1470.5,551.8 1487.4,550.7 1470.9,543 1455.2,544.6"/><polygon points="1453.1,553.4 1470.5,551.8 1455.2,544.6 1437.3,545.5"/><polygon points="1437,551.4 1453.1,553.4 1437.3,545.5 1420.2,545.9"/><polygon points="1420.6,552 1437,551.4 1420.2,545.9 1404.7,545.6"/><polygon points="1401.5,552.5 1420.6,552 1404.7,545.6 1387.5,546.3"/><polygon points="1385.1,552.7 1401.5,552.5 1387.5,546.3 1370.7,548.1"/><polygon points="1370.4,552.5 1385.1,552.7 1370.7,548.1 1354.5,549.4"/><polygon points="1353.5,553.2 1370.4,552.5 1354.5,549.4 1337,549.1"/><polygon points="1338.6,551.4 1353.5,553.2 1337,549.1 1320.2,547.3"/><polygon points="1321.4,550.7 1338.6,551.4 1320.2,547.3 1306,547.8"/><polygon points="1304.9,548.2 1321.4,550.7 1306,547.8 1285.8,546.5"/><polygon points="1286.3,546.7 1304.9,548.2 1285.8,546.5 1268.8,545.1"/><polygon points="1269.3,543.3 1286.3,546.7 1268.8,545.1 1252.2,543.6" fill="url(#gb)"/><polygon points="1253.1,539.8 1269.3,543.3 1252.2,543.6 1238.6,542.4" fill="url(#gb)"/><polygon points="1234.4,535.2 1253.1,539.8 1238.6,542.4 1218.6,539.6" fill="url(#gb)"/><polygon points="1220.5,528.8 1234.4,535.2 1218.6,539.6 1202.6,536.9" fill="url(#gb)"/><polygon points="1202.2,520.7 1220.5,528.8 1202.6,536.9 1186,532.4" fill="url(#gb)"/><polygon points="1187.4,513.3 1202.2,520.7 1186,532.4 1170.6,526.8" fill="url(#gb)"/><polygon points="1169.1,502.3 1187.4,513.3 1170.6,526.8 1154.4,521.2" fill="url(#gb)"/><polygon points="1150.7,489.7 1169.1,502.3 1154.4,521.2 1136.5,514.5" fill="url(#gb)"/><polygon points="1136.9,473.1 1150.7,489.7 1136.5,514.5 1117.4,504.1" fill="url(#gb)"/><polygon points="1535.1,555.2 1553.5,556 1535.5,546.5 1519.9,547.4"/><polygon points="1518.5,557.2 1535.1,555.2 1519.9,547.4 1502.6,548.9"/><polygon points="1503.1,558.7 1518.5,557.2 1502.6,548.9 1487.4,550.7"/><polygon points="1486.3,558.3 1503.1,558.7 1487.4,550.7 1470.5,551.8"/><polygon points="1470.3,560.5 1486.3,558.3 1470.5,551.8 1453.1,553.4"/><polygon points="1451.4,559.4 1470.3,560.5 1453.1,553.4 1437,551.4"/><polygon points="1435.7,558.8 1451.4,559.4 1437,551.4 1420.6,552"/><polygon points="1421.6,559.6 1435.7,558.8 1420.6,552 1401.5,552.5"/><polygon points="1402,559.5 1421.6,559.6 1401.5,552.5 1385.1,552.7"/><polygon points="1385.4,558.2 1402,559.5 1385.1,552.7 1370.4,552.5"/><polygon points="1368.9,556.5 1385.4,558.2 1370.4,552.5 1353.5,553.2"/><polygon points="1351.3,554.1 1368.9,556.5 1353.5,553.2 1338.6,551.4"/><polygon points="1336.5,551.4 1351.3,554.1 1338.6,551.4 1321.4,550.7"/><polygon points="1317.4,547.7 1336.5,551.4 1321.4,550.7 1304.9,548.2" fill="url(#gb)"/><polygon points="1301.5,543.6 1317.4,547.7 1304.9,548.2 1286.3,546.7" fill="url(#gb)"/><polygon points="1282.8,537.7 1301.5,543.6 1286.3,546.7 1269.3,543.3" fill="url(#gb)"/><polygon points="1267.9,529.9 1282.8,537.7 1269.3,543.3 1253.1,539.8" fill="url(#gb)"/><polygon points="1249.8,522.8 1267.9,529.9 1253.1,539.8 1234.4,535.2" fill="url(#gb)"/><polygon points="1233.7,510.8 1249.8,522.8 1234.4,535.2 1220.5,528.8" fill="url(#gb)"/><polygon points="1217.9,497.9 1233.7,510.8 1220.5,528.8 1202.2,520.7" fill="url(#gb)"/><polygon points="1199.9,480.8 1217.9,497.9 1202.2,520.7 1187.4,513.3" fill="url(#gb)"/><polygon points="1184.3,460 1199.9,480.8 1187.4,513.3 1169.1,502.3" fill="url(#gb)"/><polygon points="1166.2,432.4 1184.3,460 1169.1,502.3 1150.7,489.7" fill="url(#gb)"/><polygon points="1149.6,395.9 1166.2,432.4 1150.7,489.7 1136.9,473.1" fill="url(#gb)"/><polygon points="1550.9,565.4 1567.3,565.4 1553.5,556 1535.1,555.2"/><polygon points="1534.5,565.2 1550.9,565.4 1535.1,555.2 1518.5,557.2"/><polygon points="1517.9,566.6 1534.5,565.2 1518.5,557.2 1503.1,558.7"/><polygon points="1499.9,566.7 1517.9,566.6 1503.1,558.7 1486.3,558.3"/><polygon points="1484.4,567.6 1499.9,566.7 1486.3,558.3 1470.3,560.5"/><polygon points="1467,566 1484.4,567.6 1470.3,560.5 1451.4,559.4"/><polygon points="1453.3,564.7 1467,566 1451.4,559.4 1435.7,558.8"/><polygon points="1437,564.8 1453.3,564.7 1435.7,558.8 1421.6,559.6"/><polygon points="1420.6,563.7 1437,564.8 1421.6,559.6 1402,559.5"/><polygon points="1400.4,560.9 1420.6,563.7 1402,559.5 1385.4,558.2"/><polygon points="1384.7,557.4 1400.4,560.9 1385.4,558.2 1368.9,556.5" fill="url(#gb)"/><polygon points="1365.7,553.7 1384.7,557.4 1368.9,556.5 1351.3,554.1" fill="url(#gb)"/><polygon points="1349.5,549.4 1365.7,553.7 1351.3,554.1 1336.5,551.4" fill="url(#gb)"/><polygon points="1333,543 1349.5,549.4 1336.5,551.4 1317.4,547.7" fill="url(#gb)"/><polygon points="1317.7,534.4 1333,543 1317.4,547.7 1301.5,543.6" fill="url(#gb)"/><polygon points="1299.1,524.4 1317.7,534.4 1301.5,543.6 1282.8,537.7" fill="url(#gb)"/><polygon points="1282.5,511.3 1299.1,524.4 1282.8,537.7 1267.9,529.9" fill="url(#gb)"/><polygon points="1268.3,494.3 1282.5,511.3 1267.9,529.9 1249.8,522.8" fill="url(#gb)"/><polygon points="1250,471.9 1268.3,494.3 1249.8,522.8 1233.7,510.8" fill="url(#gb)"/><polygon points="1231.4,441.3 1250,471.9 1233.7,510.8 1217.9,497.9" fill="url(#gb)"/><polygon points="1214.6,401 1231.4,441.3 1217.9,497.9 1199.9,480.8" fill="url(#gb)"/><polygon points="1198.7,342.3 1214.6,401 1199.9,480.8 1184.3,460" fill="url(#gb)"/><polygon points="1183.2,284.3 1198.7,342.3 1184.3,460 1166.2,432.4" fill="url(#gb)"/><polygon points="1164.6,286.8 1183.2,284.3 1166.2,432.4 1149.6,395.9" fill="url(#gb)"/></g><g stroke-width="2.4"><line x1="933.7" y1="557.5" x2="933.7" y2="163.9"/><line x1="1567.9" y1="611" x2="1567.9" y2="217.4"/><line x1="933.7" y1="557.5" x2="1170.8" y2="682"/><line x1="1170.8" y1="682" x2="1567.9" y2="611"/><line x1="933.7" y1="557.5" x2="922.6" y2="551.7"/><line x1="933.7" y1="478.8" x2="922.6" y2="473"/><line x1="933.7" y1="400.1" x2="922.6" y2="394.2"/><line x1="933.7" y1="321.3" x2="922.6" y2="315.5"/><line x1="933.7" y1="242.6" x2="922.6" y2="236.8"/><line x1="933.7" y1="163.9" x2="922.6" y2="158.1"/><line x1="933.7" y1="557.5" x2="922.4" y2="559.5"/><line x1="1012.7" y1="599" x2="1001.4" y2="601"/><line x1="1091.8" y1="640.5" x2="1080.4" y2="642.6"/><line x1="1170.8" y1="682" x2="1159.5" y2="684.1"/><line x1="1170.8" y1="682" x2="1182.8" y2="688.3"/><line x1="1237" y1="670.2" x2="1248.9" y2="676.5"/><line x1="1303.2" y1="658.4" x2="1315.1" y2="664.6"/><line x1="1369.3" y1="646.5" x2="1381.3" y2="652.8"/><line x1="1435.5" y1="634.7" x2="1447.5" y2="641"/><line x1="1501.7" y1="622.8" x2="1513.7" y2="629.1"/><line x1="1567.9" y1="611" x2="1579.9" y2="617.3"/></g><g fill="#fff" stroke-width="2.0"><circle cx="1019.5" cy="598.9" r="17.8"/><circle cx="1214.7" cy="613" r="17.8"/></g></g><g font-family='"Liberation Sans", Arial, Helvetica, sans-serif' fill="#1a1a1a" stroke="#1a1a1a" stroke-width="0.65" stroke-linejoin="round"><text id="az0" transform="translate(98.5,562.75) scale(0.95,1)" font-size="27.5" text-anchor="end">0</text><text id="az1" transform="translate(99,483.75) scale(0.95,1)" font-size="27.5" text-anchor="end">0.2</text><text id="az2" transform="translate(98.5,405.25) scale(0.95,1)" font-size="27.5" text-anchor="end">0.4</text><text id="az3" transform="translate(98.5,326.25) scale(0.95,1)" font-size="27.5" text-anchor="end">0.6</text><text id="az4" transform="translate(98.5,247.75) scale(0.95,1)" font-size="27.5" text-anchor="end">0.8</text><text id="az5" transform="translate(97.8,168.75) scale(0.95,1)" font-size="27.5" text-anchor="end">1</text><text id="av4" transform="translate(104.75,587.38) scale(0.95,1)" font-size="27.5" text-anchor="middle">4</text><text id="av3" transform="translate(181.25,629.38) scale(0.95,1)" font-size="27.5" text-anchor="middle">3</text><text id="av2" transform="translate(252.75,669.88) scale(0.95,1)" font-size="27.5" text-anchor="middle">2</text><text id="av1" transform="translate(327,709.88) scale(0.95,1)" font-size="27.5" text-anchor="middle">1</text><text id="at0" transform="translate(387.75,718.38) scale(0.95,1)" font-size="27.5" text-anchor="middle">0.8</text><text id="at1" transform="translate(521.5,694.88) scale(0.95,1)" font-size="27.5" text-anchor="middle">0.4</text><text id="at2" transform="translate(653.5,669.88) scale(0.95,1)" font-size="27.5" text-anchor="middle">0</text><text id="at3" transform="translate(784.5,643.38) scale(0.95,1)" font-size="27.5" text-anchor="middle">−0.4</text><text id="aA" transform="translate(189.75,389.1)" font-size="26" text-anchor="middle">A</text><text id="aB" transform="translate(420.75,514.1)" font-size="26" text-anchor="middle">B</text><text id="atitle" transform="translate(448.55,26.05)" font-size="33.0" text-anchor="middle">(a) IC power vs <tspan font-style="italic">V</tspan><tspan font-style="italic" font-size="25" dy="5">DD</tspan><tspan dy="-5"> and </tspan><tspan font-style="italic">V</tspan><tspan font-style="italic" font-size="25" dy="5">TH</tspan></text><text id="ax10" transform="translate(97.35,125)" font-size="29">(x10<tspan font-size="20.5" dy="-12">-4</tspan><tspan dy="12">)</tspan></text><text id="aylab" transform="translate(25.9,358) rotate(-90) scale(1.04,1)" font-size="32" text-anchor="middle">IC power (W)</text><text id="avdv" transform="translate(124.8,682.8) scale(0.76,1)" font-size="32.4" font-style="italic">V</text><text id="avds" transform="translate(140.9,692.7) scale(0.85,1)" font-size="17.7" font-style="italic">DD</text><text id="avdp" transform="translate(170,682.8) scale(0.99,1)" font-size="31">(V)</text><text id="avtv" transform="translate(585.15,705.65) scale(0.76,1)" font-size="32.4" font-style="italic">V</text><text id="avts" transform="translate(601.65,715.85) scale(0.81,1)" font-size="17.7" font-style="italic">TH</text><text id="avtp" transform="translate(628.6,705.65) scale(0.99,1)" font-size="31">(V)</text><text id="bz0" transform="translate(909,564.25) scale(0.95,1)" font-size="27.5" text-anchor="end">0</text><text id="bz1" transform="translate(908.3,484.5) scale(0.95,1)" font-size="27.5" text-anchor="end">1</text><text id="bz2" transform="translate(909.5,405.25) scale(0.95,1)" font-size="27.5" text-anchor="end">2</text><text id="bz3" transform="translate(909,326) scale(0.95,1)" font-size="27.5" text-anchor="end">3</text><text id="bz4" transform="translate(908.5,246.25) scale(0.95,1)" font-size="27.5" text-anchor="end">4</text><text id="bz5" transform="translate(909,166.5) scale(0.95,1)" font-size="27.5" text-anchor="end">5</text><text id="bv4" transform="translate(917.75,586.88) scale(0.95,1)" font-size="27.5" text-anchor="middle">4</text><text id="bv3" transform="translate(991.25,625.38) scale(0.95,1)" font-size="27.5" text-anchor="middle">3</text><text id="bv2" transform="translate(1064,665.88) scale(0.95,1)" font-size="27.5" text-anchor="middle">2</text><text id="bv1" transform="translate(1137,705.88) scale(0.95,1)" font-size="27.5" text-anchor="middle">1</text><text id="bt0" transform="translate(1197,715.38) scale(0.95,1)" font-size="27.5" text-anchor="middle">0.8</text><text id="bt1" transform="translate(1330.5,690.38) scale(0.95,1)" font-size="27.5" text-anchor="middle">0.4</text><text id="bt2" transform="translate(1462.25,665.88) scale(0.95,1)" font-size="27.5" text-anchor="middle">0</text><text id="bt3" transform="translate(1598,643.38) scale(0.95,1)" font-size="27.5" text-anchor="middle">−0.4</text><text id="bA" transform="translate(1019.5,606.1)" font-size="26" text-anchor="middle">A</text><text id="bB" transform="translate(1214.25,621.6)" font-size="26" text-anchor="middle">B</text><text id="btitle" transform="translate(1244.6,27.45) scale(0.99,1)" font-size="33.0" text-anchor="middle">(b) RC delay vs <tspan font-style="italic">V</tspan><tspan font-style="italic" font-size="25" dy="5">DD</tspan><tspan dy="-5"> and </tspan><tspan font-style="italic">V</tspan><tspan font-style="italic" font-size="25" dy="5">TH</tspan></text><text id="bx10" transform="translate(907.85,125)" font-size="29">(x10<tspan font-size="20.5" dy="-12">-4</tspan><tspan dy="12">)</tspan></text><text id="bylab" transform="translate(858.7,360.7) rotate(-90) scale(1.06,1)" font-size="32" text-anchor="middle">RC delay (s)</text><text id="bc0" transform="translate(1044.15,556) scale(1.08,1)" font-size="20">75 ps</text><text id="bc1" transform="translate(1041.4,603.8) scale(1.08,1)" font-size="20">100 ps</text><text id="bc2" transform="translate(1074.1,626.8) scale(1.08,1)" font-size="20">125 ps</text><text id="bc3" transform="translate(1131.35,662.8) scale(1.08,1)" font-size="20">150 ps</text><text id="bvdv" transform="translate(935.8,683.4) scale(0.76,1)" font-size="32.4" font-style="italic">V</text><text id="bvds" transform="translate(951.9,693.5) scale(0.85,1)" font-size="17.7" font-style="italic">DD</text><text id="bvdp" transform="translate(981.2,683.95) scale(0.99,1)" font-size="31">(V)</text><text id="bvtv" transform="translate(1394.5,706.25) scale(0.76,1)" font-size="32.4" font-style="italic">V</text><text id="bvts" transform="translate(1410.8,715.85) scale(0.81,1)" font-size="17.7" font-style="italic">TH</text><text id="bvtp" transform="translate(1437.8,706.15) scale(0.99,1)" font-size="31">(V)</text></g></svg>
</body>
</html>
